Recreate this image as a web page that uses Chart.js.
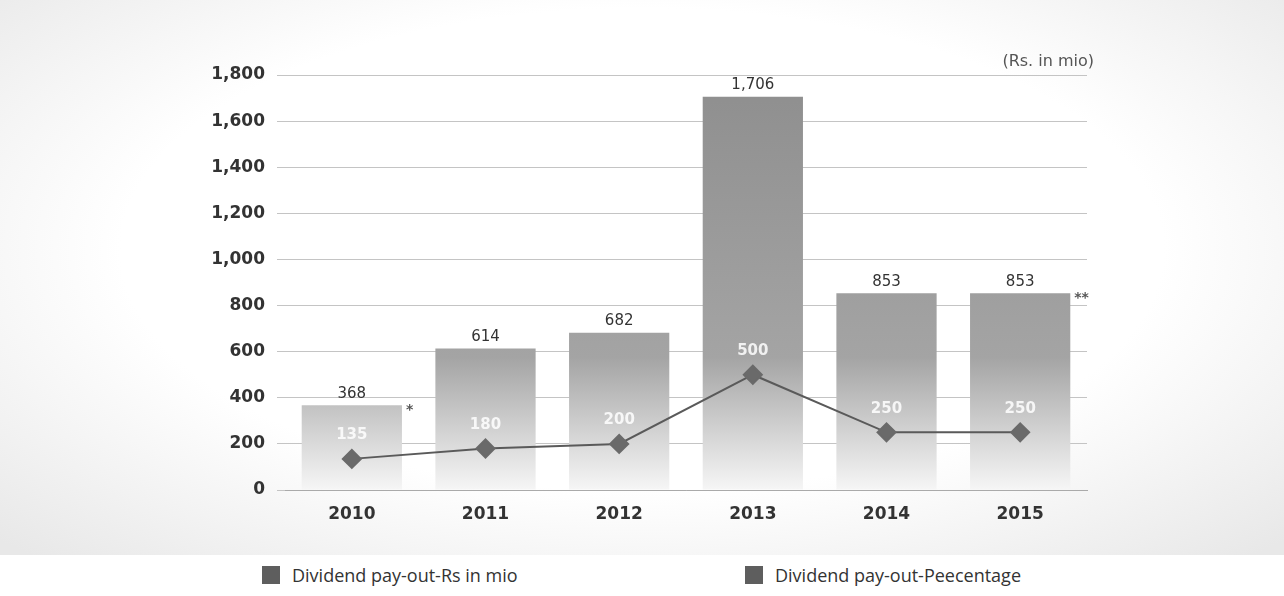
<!DOCTYPE html>
<html>
<head>
<meta charset="utf-8">
<script src="https://cdn.jsdelivr.net/npm/chart.js@4.4.0/dist/chart.umd.min.js"></script>
<style>
  html, body { margin: 0; padding: 0; background: #fff; }
  #wrap {
    position: relative; width: 1284px; height: 555px;
    background: radial-gradient(ellipse 70% 75% at 50% 45%, #ffffff 58%, #e8e8e8 100%);
  }
  #legend {
    position: relative; width: 1284px; height: 41px;
    font-family: "Open Sans", sans-serif; font-size: 18px; color: #333;
  }
  .item { position: absolute; top: 8px; display: flex; align-items: center; }
  .box { width: 18px; height: 18px; background: #5e5e5e; margin-right: 12px; }
</style>
</head>
<body>
<div id="wrap"><canvas id="dividendChart" width="1284" height="555"></canvas></div>
<div id="legend">
  <div class="item" style="left:262px"><span class="box"></span>Dividend pay-out-Rs in mio</div>
  <div class="item" style="left:745px"><span class="box"></span>Dividend pay-out-Peecentage</div>
</div>
<script>
// Dividend pay-out data
const years = ["2010", "2011", "2012", "2013", "2014", "2015"];
const payoutRs = [368, 614, 682, 1706, 853, 853];
const payoutPct = [135, 180, 200, 500, 250, 250];
const yTicks = [0, 200, 400, 600, 800, 1000, 1200, 1400, 1600, 1800];
const barNotes = ["*", "", "", "", "", "**"];

function barGradient(ctx) {
  const area = ctx.chart.chartArea;
  if (!area) return "#999";
  const g = ctx.chart.ctx.createLinearGradient(0, area.top, 0, area.bottom);
  g.addColorStop(0, "#8e8e8e");
  g.addColorStop(0.68, "#a4a4a4");
  g.addColorStop(0.85, "#d0d0d0");
  g.addColorStop(1, "#f6f6f6");
  return g;
}

// value labels, notes and the unit caption
const labelPlugin = {
  id: "labels",
  afterDatasetsDraw(chart) {
    const c = chart.ctx;
    c.save();
    c.textAlign = "center";
    c.textBaseline = "bottom";
    chart.getDatasetMeta(0).data.forEach((bar, i) => {
      c.font = "15px 'DejaVu Sans', sans-serif";
      c.fillStyle = "#333";
      c.fillText(payoutRs[i].toLocaleString("en-US"), bar.x, bar.y - 4);
      if (barNotes[i]) {
        c.textAlign = "left";
        c.font = "bold 14px 'DejaVu Sans', sans-serif";
        c.fillStyle = "#555";
        c.fillText(barNotes[i], bar.x + bar.width / 2 + 4, bar.y + 12);
        c.textAlign = "center";
      }
    });
    chart.getDatasetMeta(1).data.forEach((pt, i) => {
      c.font = "bold 15px 'DejaVu Sans', sans-serif";
      c.fillStyle = "rgba(255,255,255,0.85)";
      c.fillText(payoutPct[i], pt.x, pt.y - 16);
    });
    c.textAlign = "right";
    c.font = "16px 'DejaVu Sans', sans-serif";
    c.fillStyle = "#555";
    c.fillText("(Rs. in mio)", 1094, 70);
    c.restore();
  }
};

const ctx = document.getElementById("dividendChart").getContext("2d");
new Chart(ctx, {
  data: {
    labels: years,
    datasets: [
      {
        type: "bar",
        label: "Dividend pay-out-Rs in mio",
        data: payoutRs,
        backgroundColor: barGradient,
        barPercentage: 0.75,
        categoryPercentage: 1,
        order: 2
      },
      {
        type: "line",
        label: "Dividend pay-out-Peecentage",
        data: payoutPct,
        borderColor: "#5a5a5a",
        borderWidth: 2,
        pointStyle: "rectRot",
        pointRadius: 9,
        pointBackgroundColor: "#6a6a6a",
        pointBorderColor: "#6a6a6a",
        tension: 0,
        order: 1
      }
    ]
  },
  options: {
    responsive: false,
    animation: false,
    layout: { padding: { top: 75, right: 197, bottom: 0, left: 0 } },
    plugins: {
      legend: { display: false },
      tooltip: { enabled: false }
    },
    scales: {
      x: {
        grid: { display: false },
        border: { color: "#aaa" },
        ticks: { color: "#333", font: { family: "'DejaVu Sans', sans-serif", size: 17, weight: "bold" }, padding: 6 },
        afterFit(s) { s.height = 65; }
      },
      y: {
        min: 0,
        max: 1800,
        afterBuildTicks(s) { s.ticks = yTicks.map(v => ({ value: v })); },
        grid: { color: "#c4c4c4", tickLength: 8 },
        border: { display: false },
        ticks: {
          color: "#333",
          padding: 12,
          font: { family: "'DejaVu Sans', sans-serif", size: 17, weight: "bold" },
          callback: v => v.toLocaleString("en-US")
        },
        afterFit(s) { s.width = 285; }
      }
    }
  },
  plugins: [labelPlugin]
});
</script>
</body>
</html>
